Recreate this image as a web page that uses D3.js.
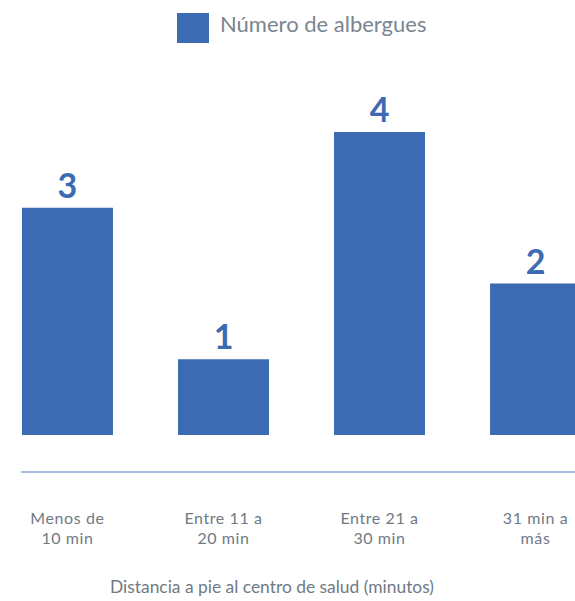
<!DOCTYPE html>
<html>
<head>
<meta charset="utf-8">
<script src="https://cdn.jsdelivr.net/npm/d3@7"></script>
<style>
body{margin:0;background:#fff;}
svg{display:block;}
text{font-family:Lato,"Open Sans",sans-serif;}
</style>
</head>
<body>
<svg id="chart" width="575" height="601"></svg>
<script>
const categories = [["Menos de","10 min"],["Entre 11 a","20 min"],["Entre 21 a","30 min"],["31 min a","más"]];
const values = [3, 1, 4, 2];
const seriesName = "Número de albergues";
const axisTitle = "Distancia a pie al centro de salud (minutos)";

const svg = d3.select("#chart");
const barColor = "#3d6bb3";
const textColor = "#6f7a84";

const keys = categories.map((c,i)=>i);
const x = d3.scaleBand().domain(keys).range([0, 603]).paddingInner(0.417).paddingOuter(0.141);
const y = d3.scaleLinear().domain([0, 4]).range([435, 132]);

// axis line
svg.append("line").attr("x1", 21).attr("x2", 575).attr("y1", 472).attr("y2", 472)
  .attr("stroke", "#a9bde0").attr("stroke-width", 2.2);

svg.selectAll("rect.bar").data(values).enter().append("rect")
  .attr("class","bar")
  .attr("x", (d,i)=>x(i)).attr("width", x.bandwidth())
  .attr("y", d=>y(d)).attr("height", d=>y(0)-y(d))
  .attr("fill", barColor);

svg.selectAll("text.val").data(values).enter().append("text")
  .attr("class","val")
  .attr("x", (d,i)=>x(i)+x.bandwidth()/2).attr("y", d=>y(d)-10)
  .attr("text-anchor","middle").attr("fill", barColor)
  .attr("font-size", 34).attr("font-weight", "bold")
  .text(d=>d);

// category labels, two lines each as separate text elements
categories.forEach((d,i)=>{
  const cx = Math.min(x(i)+x.bandwidth()/2, 537);
  d.forEach((line,j)=>{
    svg.append("text").attr("class","cat")
      .attr("x", cx).attr("y", 524 + j*19.8)
      .attr("text-anchor","middle").attr("fill", textColor)
      .attr("font-size", 16).attr("letter-spacing", 0.6)
      .text(line);
  });
});

svg.append("text").attr("x", 272).attr("y", 593).attr("text-anchor","middle")
  .attr("fill", textColor).attr("font-size", 17.4).text(axisTitle);

// legend
svg.append("rect").attr("x", 177).attr("y", 13).attr("width", 32).attr("height", 30).attr("fill", barColor);
svg.append("text").attr("x", 220).attr("y", 32).attr("fill", "#7a8590").attr("font-size", 22).text(seriesName);
</script>
</body>
</html>
